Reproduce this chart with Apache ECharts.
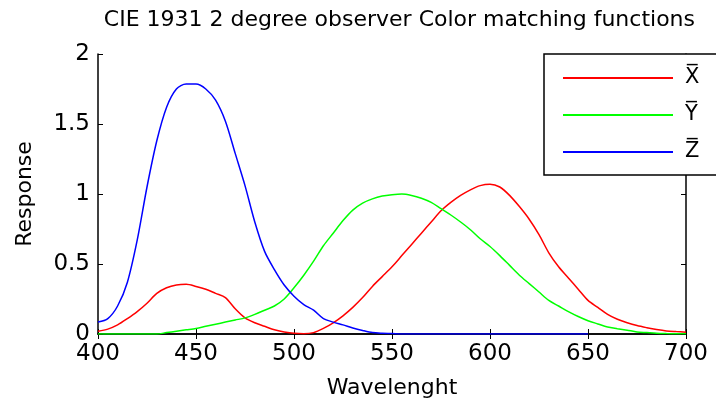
<!DOCTYPE html>
<html>
<head>
<meta charset="utf-8">
<script src="https://cdn.jsdelivr.net/npm/echarts@6/dist/echarts.min.js"></script>
<style>
html,body{margin:0;padding:0;background:#fff;}
#chart{width:716px;height:405px;}
</style>
</head>
<body>
<div id="chart"></div>
<script>
const wavelengths = [400,405,410,415,420,425,430,435,440,445,450,455,460,465,470,475,480,485,490,495,500,505,510,515,520,525,530,535,540,545,550,555,560,565,570,575,580,585,590,595,600,605,610,615,620,625,630,635,640,645,650,655,660,665,670,675,680,685,690,695,700];
const xBar = [0.02,0.035,0.065,0.11,0.16,0.22,0.29,0.33,0.35,0.355,0.34,0.32,0.29,0.26,0.18,0.115,0.08,0.055,0.03,0.015,0.005,0.002,0.01,0.04,0.08,0.13,0.19,0.26,0.34,0.41,0.48,0.56,0.64,0.72,0.80,0.88,0.94,0.99,1.03,1.06,1.07,1.05,0.99,0.91,0.82,0.71,0.58,0.48,0.40,0.32,0.24,0.19,0.14,0.105,0.08,0.06,0.045,0.032,0.022,0.017,0.013];
const yBar = [0,0,0,0,0,0,0,0.01,0.02,0.03,0.04,0.055,0.07,0.085,0.10,0.115,0.14,0.17,0.20,0.25,0.33,0.42,0.52,0.63,0.72,0.81,0.885,0.935,0.965,0.985,0.995,1.0,0.99,0.97,0.94,0.895,0.85,0.80,0.745,0.68,0.625,0.56,0.49,0.42,0.36,0.30,0.24,0.20,0.16,0.125,0.095,0.072,0.05,0.038,0.027,0.015,0.01,0.005,0.003,0.002,0.001];
const zBar = [0.085,0.11,0.20,0.37,0.67,1.05,1.38,1.62,1.75,1.785,1.785,1.75,1.67,1.52,1.29,1.06,0.80,0.59,0.46,0.35,0.27,0.21,0.17,0.11,0.085,0.065,0.043,0.025,0.01,0.005,0.003,0,0,0,0,0,0,0,0,0,0,0,0,0,0,0,0,0,0,0,0];
const seriesNames = ['X\u0305','Y\u0305','Z\u0305'];
const seriesColors = ['#ff0000','#00ff00','#0000ff'];
const xTicks = [400,450,500,550,600,650,700];
const yTicks = [0,0.5,1,1.5,2];
const titleText = 'CIE 1931 2 degree observer Color matching functions';
const xName = 'Wavelenght';
const yName = 'Response';

const font = 'DejaVu Sans';
function pairs(vals){ return vals.map((v,i)=>[wavelengths[i], v]); }
const chart = echarts.init(document.getElementById('chart'), null, {renderer:'canvas'});
const axisCommon = {
  axisLine:{show:true, lineStyle:{color:'#000', width:1.5}},
  axisTick:{show:true, inside:true, length:5, lineStyle:{color:'#000', width:1}},
  splitLine:{show:false}
};
chart.setOption({
  animation:false,
  backgroundColor:'#fff',
  title:{text:titleText, right:21, top:9, padding:0, textStyle:{fontFamily:font, fontSize:22, fontWeight:'normal', color:'#000'}},
  grid:{left:98, right:30, top:54, bottom:71, containLabel:false},
  legend:{
    orient:'vertical', left:563, top:65, z:20, padding:0,
    itemWidth:110, itemHeight:2, itemGap:11, icon:'rect',
    textStyle:{fontFamily:font, fontSize:21, color:'#000', lineHeight:26, padding:[0,0,0,7]},
    data:seriesNames
  },
  xAxis:[
    Object.assign({type:'value', min:xTicks[0], max:xTicks[xTicks.length-1], interval:50, position:'bottom',
      name:xName, nameLocation:'middle', nameGap:43,
      nameTextStyle:{fontFamily:font, fontSize:22, color:'#000'},
      axisLabel:{fontFamily:font, fontSize:23, color:'#000', margin:9}}, axisCommon),
    Object.assign({type:'value', min:xTicks[0], max:xTicks[xTicks.length-1], interval:50, position:'top',
      axisLabel:{show:false}}, axisCommon)
  ],
  yAxis:[
    Object.assign({type:'value', min:yTicks[0], max:yTicks[yTicks.length-1], interval:0.5, position:'left',
      name:yName, nameLocation:'middle', nameGap:62,
      nameTextStyle:{fontFamily:font, fontSize:22, color:'#000'},
      axisLabel:{fontFamily:font, fontSize:23, color:'#000', margin:8}}, axisCommon),
    Object.assign({type:'value', min:yTicks[0], max:yTicks[yTicks.length-1], interval:0.5, position:'right',
      axisLabel:{show:false}}, axisCommon)
  ],
  series:[xBar,yBar,zBar].map((vals,i)=>({
    name:seriesNames[i], type:'line', data:pairs(vals), showSymbol:false, smooth:0.3,
    lineStyle:{color:seriesColors[i], width:1.5}, itemStyle:{color:seriesColors[i]}
  })),
  graphic:{elements:[
    {type:'rect', z:10, shape:{x:544, y:54, width:200, height:121}, style:{fill:'#fff', stroke:'#000', lineWidth:1.5}}
  ]}
});
</script>
</body>
</html>
